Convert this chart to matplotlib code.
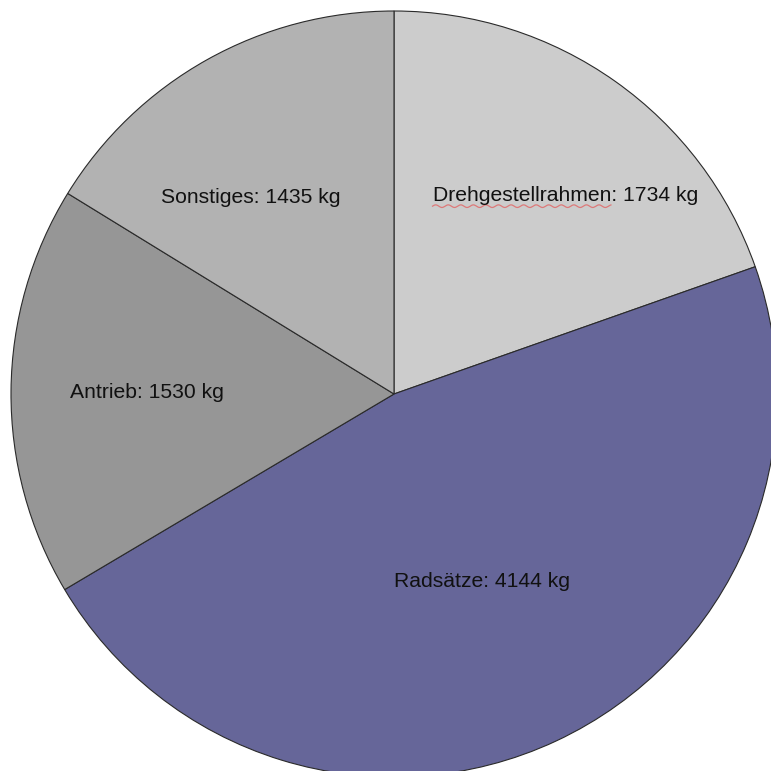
import numpy as np
import matplotlib
matplotlib.use("Agg")
import matplotlib.pyplot as plt

# Mass breakdown of a bogie
categories = ["Drehgestellrahmen", "Radsätze", "Antrieb", "Sonstiges"]
masses_kg = [1734, 4144, 1530, 1435]
unit = "kg"

colors = ["#cccccc", "#666699", "#969696", "#b2b2b2"]
label_dist = [0.684, 0.54, 0.645, 0.635]   # fraction of radius
label_rot = [-5.5, 0.0, 0.0, 6.8]          # angular nudge in degrees
FS = 15.2

W = H = 771
R_px = 383.0
cx_px, cy_px = 394.0, 394.0  # centre, pixels from top-left

fig = plt.figure(figsize=(W / 100, H / 100), dpi=100)
ax = fig.add_axes([0, 0, 1, 1])
ax.set_axis_off()

wedges, _ = ax.pie(
    masses_kg,
    colors=colors,
    startangle=90,
    counterclock=False,
    radius=1.0,
    wedgeprops=dict(edgecolor="#2a2a2a", linewidth=0.8),
)
ax.set_xlim(-cx_px / R_px, (W - cx_px) / R_px)
ax.set_ylim(-(H - cy_px) / R_px, cy_px / R_px)
ax.set_aspect("equal")

texts = []
for w, name, m, d, rot in zip(wedges, categories, masses_kg, label_dist, label_rot):
    mid = np.deg2rad(0.5 * (w.theta1 + w.theta2) + rot)
    t = ax.text(d * np.cos(mid), d * np.sin(mid), f"{name}: {m} {unit}",
                ha="center", va="center", fontsize=FS,
                family="Liberation Sans", color="#111111")
    texts.append(t)

# spell-check style wavy underline beneath the first category name
fig.canvas.draw()
renderer = fig.canvas.get_renderer()
t0 = texts[0]
bb = t0.get_window_extent(renderer)
probe = ax.text(0, 0, categories[0], fontsize=FS, family="Liberation Sans")
wb = probe.get_window_extent(renderer)
probe.remove()
xs = np.linspace(bb.x0, bb.x0 + wb.width, 240)
ys = bb.y0 - 1.0 + 1.3 * np.sin((xs - bb.x0) / 2.0)
inv = ax.transData.inverted()
pts = inv.transform(np.column_stack([xs, ys]))
ax.plot(pts[:, 0], pts[:, 1], color="#e06a6a", lw=0.9, alpha=0.85)

fig.savefig("out.png", dpi=100, facecolor="white")
